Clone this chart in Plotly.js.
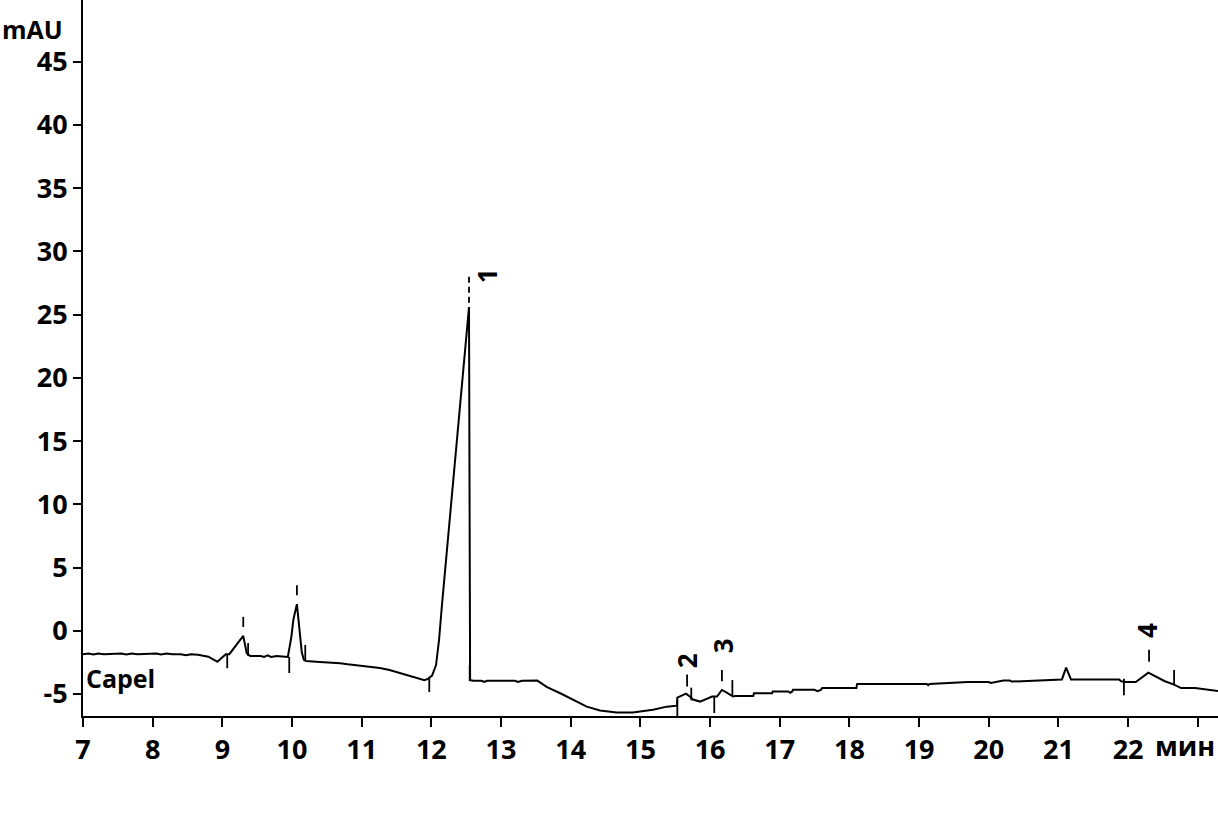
<!DOCTYPE html>
<html>
<head>
<meta charset="utf-8">
<script src="https://cdn.plot.ly/plotly-3.0.1.min.js"></script>
<style>html,body{margin:0;padding:0;background:#fff;}#chart{width:1218px;height:827px;}</style>
</head>
<body>
<div id="chart"></div>
<script>
// Chromatogram signal (time, min ; absorbance, mAU)
const timeMin = [7.00,7.08,7.15,7.22,7.30,7.45,7.55,7.62,7.70,7.78,7.95,8.05,8.12,8.20,8.28,8.40,8.48,8.55,8.65,8.72,8.80,8.88,8.93,8.98,9.05,9.10,9.30,9.35,9.40,9.55,9.60,9.65,9.70,9.78,9.94,9.99,10.02,10.07,10.10,10.14,10.17,10.20,10.40,10.55,10.69,10.80,11.02,11.15,11.26,11.40,11.51,11.62,11.74,11.85,11.90,11.95,12.01,12.067,12.11,12.152,12.224,12.296,12.368,12.44,12.497,12.54,12.556,12.60,12.72,12.76,12.80,13.00,13.20,13.24,13.30,13.52,13.66,13.85,14.03,14.23,14.42,14.66,14.89,14.99,15.18,15.38,15.526,15.53,15.59,15.655,15.71,15.755,15.856,15.956,16.03,16.10,16.17,16.24,16.33,16.36,16.62,16.63,16.89,16.90,17.12,17.15,17.18,17.19,17.50,17.54,17.59,17.61,18.10,18.11,19.11,19.13,19.15,19.42,19.70,20.00,20.03,20.21,20.30,20.33,20.89,21.05,21.11,21.18,21.87,21.90,21.97,22.11,22.29,22.39,22.52,22.66,22.76,22.96,23.15,23.29];
const signalMAU = [-1.85,-1.80,-1.88,-1.80,-1.85,-1.85,-1.80,-1.88,-1.80,-1.85,-1.85,-1.80,-1.88,-1.80,-1.85,-1.85,-1.93,-1.85,-1.90,-1.95,-2.05,-2.30,-2.45,-2.20,-1.85,-1.85,-0.41,-1.78,-2.00,-2.00,-2.07,-1.95,-2.07,-2.00,-2.07,-0.50,0.90,2.10,0.50,-1.70,-2.30,-2.39,-2.46,-2.50,-2.56,-2.65,-2.77,-2.85,-2.95,-3.10,-3.27,-3.45,-3.66,-3.85,-3.90,-3.80,-3.55,-2.71,-0.73,2.04,6.39,10.74,15.09,19.45,23.00,25.60,-3.90,-3.95,-3.95,-4.05,-3.95,-3.96,-3.96,-4.05,-3.95,-3.94,-4.46,-4.94,-5.44,-6.00,-6.30,-6.47,-6.47,-6.39,-6.24,-6.00,-5.92,-5.28,-5.10,-4.97,-5.20,-5.44,-5.60,-5.36,-5.20,-5.20,-4.68,-4.90,-5.20,-5.16,-5.16,-4.94,-4.94,-4.80,-4.80,-4.90,-4.80,-4.67,-4.67,-4.77,-4.67,-4.53,-4.53,-4.21,-4.21,-4.30,-4.21,-4.13,-4.05,-4.05,-4.13,-3.94,-3.94,-4.02,-3.85,-3.85,-2.91,-3.85,-3.85,-4.00,-4.05,-4.05,-3.31,-3.58,-3.97,-4.26,-4.53,-4.53,-4.68,-4.76];

// Integration event marks (time, from, to)
const eventTime = [9.07,9.37,9.96,10.19,11.97,12.55,15.53,15.73,16.06,16.32,21.94,22.66];
const eventFrom = [-1.85,-0.97,-2.07,-1.12,-3.74,-2.70,-5.50,-4.50,-5.20,-3.90,-3.80,-3.10];
const eventTo   = [-2.96,-2.00,-3.34,-2.39,-4.85,-3.97,-6.74,-5.50,-6.50,-5.20,-5.10,-4.30];

// Retention-time marks above peaks
const apexTime = [9.30,10.07,12.54,15.67,16.17,22.30];
const apexFrom = [1.10,3.60,28.0,-3.45,-3.10,-1.50];
const apexTo   = [0.30,2.80,25.7,-4.40,-4.00,-2.45];

// Numbered peaks
const peakNames = ['1','2','3','4'];
const peakTime  = [12.81,15.67,16.19,22.27];
const peakLabelY = [28.1,-2.4,-1.2,0.05];

// Axis ticks
const xTicks = [7,8,9,10,11,12,13,14,15,16,17,18,19,20,21,22,23];
const xTickText = ['7','8','9','10','11','12','13','14','15','16','17','18','19','20','21','22',''];
const yTicks = [-5,0,5,10,15,20,25,30,35,40,45];
const yTickText = ['-5','0','5','10','15','20','25','30','35','40','45'];

const FONT = 'Open Sans, Noto Sans, sans-serif';

const shapes = [];
eventTime.forEach((t,i)=>shapes.push({type:'line',xref:'x',yref:'y',x0:t,x1:t,y0:eventFrom[i],y1:eventTo[i],line:{color:'#000',width:1.8}}));
apexTime.forEach((t,i)=>shapes.push({type:'line',xref:'x',yref:'y',x0:t,x1:t,y0:apexFrom[i],y1:apexTo[i],line:{color:'#000',width:1.8,dash: i===2?'6px,4px':'solid'}}));

const annotations = peakNames.map((n,i)=>({x:peakTime[i],y:peakLabelY[i],xref:'x',yref:'y',text:n,showarrow:false,textangle:-90,font:{family:FONT,size:26,weight:700,color:'#000'}}));
annotations.push({xref:'paper',yref:'paper',x:-0.073,y:1.0,yanchor:'top',xanchor:'left',yshift:-10,text:'mAU',showarrow:false,font:{family:FONT,size:25,weight:700,color:'#000'}});
annotations.push({xref:'paper',yref:'y',x:0.001,y:-3.75,xanchor:'left',yanchor:'middle',text:'Capel',showarrow:false,font:{family:FONT,size:25,weight:700,color:'#000'}});
annotations.push({xref:'x',yref:'paper',x:23.0,y:0,yanchor:'top',xanchor:'center',xshift:-13,yshift:-9,text:'мин',showarrow:false,font:{family:FONT,size:27,weight:700,color:'#000'}});

const trace = {x:timeMin,y:signalMAU,type:'scatter',mode:'lines',line:{color:'#000',width:2},hoverinfo:'skip'};

const layout = {
  width:1218,height:827,
  margin:{l:83,r:0,t:0,b:111,pad:0},
  paper_bgcolor:'#fff',plot_bgcolor:'#fff',
  showlegend:false,
  font:{family:FONT,size:27,weight:700,color:'#000'},
  xaxis:{range:[7,23.29],tickvals:xTicks,ticktext:xTickText,ticks:'outside',ticklen:9,tickwidth:2,tickcolor:'#000',showline:true,linecolor:'#000',linewidth:2,showgrid:false,zeroline:false,tickfont:{family:FONT,size:27,weight:700,color:'#000'}},
  yaxis:{range:[-6.74,49.88],tickvals:yTicks,ticktext:yTickText,ticks:'outside',ticklen:8,tickwidth:2,tickcolor:'#000',showline:true,linecolor:'#000',linewidth:2,showgrid:false,zeroline:false,tickfont:{family:FONT,size:27,weight:700,color:'#000'}},
  shapes:shapes,
  annotations:annotations
};

Plotly.newPlot('chart',[trace],layout,{displayModeBar:false,staticPlot:true});
</script>
</body>
</html>
